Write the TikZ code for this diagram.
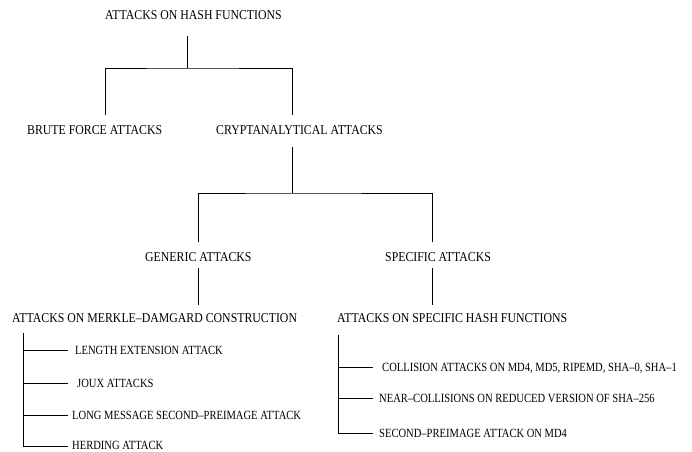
\documentclass[tikz,border=0pt]{standalone}
\usepackage{fontspec}
\setmainfont{Liberation Serif}[FakeStretch=0.875]
\newfontfamily\itemfont{Liberation Serif}[FakeStretch=0.845]
\begin{document}
\begin{tikzpicture}[x=1pt,y=-1pt,
  lbl/.style={font=\fontsize{13.5}{16}\selectfont, inner sep=0pt, anchor=base west},
  itm/.style={font=\itemfont\fontsize{12.5}{15}\selectfont, inner sep=0pt, anchor=base west},
  conn/.style={draw=black, line width=0.8pt}]
\useasboundingbox (0,0) rectangle (692,451);
% text nodes
\node[lbl] (root) at (105,19.5) {ATTACKS ON HASH FUNCTIONS};
\node[lbl] (brute) at (27,134.5) {BRUTE FORCE ATTACKS};
\node[lbl] (crypt) at (216,134.5) {CRYPTANALYTICAL ATTACKS};
\node[lbl] (gen) at (145,261.5) {GENERIC ATTACKS};
\node[lbl] (spec) at (385,261.5) {SPECIFIC ATTACKS};
\node[lbl] (md) at (12,322.5) {ATTACKS ON MERKLE–DAMGARD CONSTRUCTION};
\node[lbl] (shf) at (337,322.5) {ATTACKS ON SPECIFIC HASH FUNCTIONS};
\node[itm] (len) at (75,354.5) {LENGTH EXTENSION ATTACK};
\node[itm] (joux) at (77,387.5) {JOUX ATTACKS};
\node[itm] (long) at (72,419.5) {LONG MESSAGE SECOND–PREIMAGE ATTACK};
\node[itm] (herd) at (72,449.3) {HERDING ATTACK};
\node[itm] (coll) at (382,371.5) {COLLISION ATTACKS ON MD4, MD5, RIPEMD, SHA–0, SHA–1};
\node[itm] (near) at (379,402.5) {NEAR–COLLISIONS ON REDUCED VERSION OF SHA–256};
\node[itm] (sec) at (379,437.5) {SECOND–PREIMAGE ATTACK ON MD4};
% junction coordinates
\coordinate (r0) at (187,36);
\coordinate (r1) at (187,68);
\coordinate (b1) at (105,115);
\coordinate (c1) at (292,115);
\coordinate (c2) at (292,147);
\coordinate (c3) at (292,193);
\coordinate (g1) at (198,242);
\coordinate (s1) at (432,242);
\coordinate (g2) at (198,268);
\coordinate (g3) at (198,305);
\coordinate (s2) at (432,268);
\coordinate (s3) at (432,305);
\coordinate (m0) at (23,333);
\coordinate (p0) at (338,335);
% connectors
\draw[conn] (r0) -- (r1);
\draw[conn] (b1) |- (r1) -| (c1);
\draw[conn] (c2) -- (c3);
\draw[conn] (g1) |- (c3) -| (s1);
\draw[conn] (g2) -- (g3);
\draw[conn] (s2) -- (s3);
\draw[conn] (m0) |- (68,446);
\draw[conn] (m0 |- 0,350) -- (68,350);
\draw[conn] (m0 |- 0,383) -- (68,383);
\draw[conn] (m0 |- 0,415) -- (68,415);
\draw[conn] (p0) |- (373,433);
\draw[conn] (p0 |- 0,367) -- (373,367);
\draw[conn] (p0 |- 0,398) -- (373,398);
\end{tikzpicture}
\end{document}
